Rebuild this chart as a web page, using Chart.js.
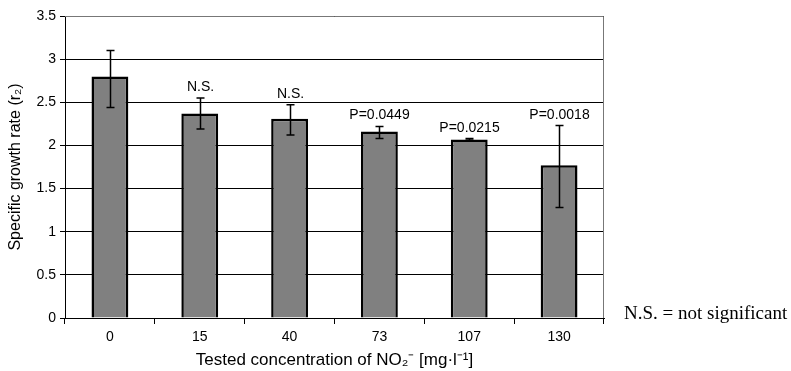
<!DOCTYPE html>
<html><head><meta charset="utf-8">
<script src="https://cdn.jsdelivr.net/npm/chart.js@4/dist/chart.umd.min.js"></script>
<style>html,body{margin:0;padding:0;background:#fff}#wrap{width:791px;height:371px;position:relative}</style>
</head><body><div id="wrap"><canvas id="c" width="791" height="371"></canvas></div>
<script>
const categories = ['0','15','40','73','107','130'];
const growthRate = [2.80, 2.37, 2.31, 2.16, 2.07, 1.77];
const errLow  = [2.44, 2.19, 2.12, 2.08, 2.06, 1.28];
const errHigh = [3.10, 2.55, 2.47, 2.22, 2.08, 2.23];
const sigLabels = ['', 'N.S.', 'N.S.', 'P=0.0449', 'P=0.0215', 'P=0.0018'];
const yTicks = [0, 0.5, 1, 1.5, 2, 2.5, 3, 3.5];
const noteText = 'N.S. = not significant';

const SANS = '"Liberation Sans", Arial, sans-serif';

const extras = {
  id: 'extras',
  beforeDatasetsDraw(chart) {
    const {ctx, chartArea: a} = chart;
    ctx.save();
    ctx.strokeStyle = '#777';
    ctx.lineWidth = 1;
    ctx.beginPath();
    ctx.moveTo(a.left, a.top + 0.5);
    ctx.lineTo(a.right - 0.5, a.top + 0.5);
    ctx.lineTo(a.right - 0.5, a.bottom);
    ctx.stroke();
    ctx.restore();
  },
  afterDatasetsDraw(chart) {
    const {ctx} = chart;
    const xs = chart.scales.x, ys = chart.scales.y;
    ctx.save();
    ctx.strokeStyle = '#000';
    ctx.lineWidth = 1.5;
    ctx.fillStyle = '#000';
    ctx.font = '14px ' + SANS;
    ctx.textAlign = 'center';
    ctx.textBaseline = 'alphabetic';
    categories.forEach((c, i) => {
      const x = Math.round(xs.getPixelForValue(i)) + 0.5;
      const yl = ys.getPixelForValue(errLow[i]);
      const yh = ys.getPixelForValue(errHigh[i]);
      ctx.beginPath();
      ctx.moveTo(x, yl); ctx.lineTo(x, yh);
      ctx.moveTo(x - 4, yl); ctx.lineTo(x + 4, yl);
      ctx.moveTo(x - 4, yh); ctx.lineTo(x + 4, yh);
      ctx.stroke();
      if (sigLabels[i]) ctx.fillText(sigLabels[i], x, yh - 7);
    });
    ctx.font = '19px "Liberation Serif", "Times New Roman", serif';
    ctx.textAlign = 'left';
    ctx.textBaseline = 'alphabetic';
    ctx.fillText(noteText, 624, ys.getPixelForValue(0) + 1);
    ctx.restore();
  }
};

new Chart(document.getElementById('c'), {
  type: 'bar',
  data: {
    labels: categories,
    datasets: [{
      data: growthRate,
      backgroundColor: '#808080',
      borderColor: '#000',
      borderWidth: 2.5,
      borderSkipped: 'bottom',
      categoryPercentage: 1,
      barPercentage: 0.41
    }]
  },
  options: {
    responsive: false,
    animation: false,
    devicePixelRatio: 1,
    layout: {padding: {left: 0, right: 187, top: 16, bottom: 0}},
    plugins: {legend: {display: false}, tooltip: {enabled: false}},
    scales: {
      x: {
        offset: true,
        afterFit(s) { s.height = 53; },
        grid: {offset: true, drawOnChartArea: false, drawTicks: true, tickLength: 6, color: '#000'},
        border: {color: '#000', width: 1},
        ticks: {color: '#000', font: {family: SANS, size: 14}, padding: 5},
        title: {display: true, text: 'Tested concentration of NO\u2082\u207B [mg\u00B7l\u207B\u00B9]', color: '#000',
                font: {family: SANS, size: 17}, padding: {top: 0, bottom: 0}}
      },
      y: {
        min: 0, max: 3.5,
        afterFit(s) { s.width = 65; },
        afterBuildTicks(s) { s.ticks = yTicks.map(v => ({value: v})); },
        grid: {color: '#000', lineWidth: 1, tickLength: 5},
        border: {color: '#000', width: 1},
        ticks: {color: '#000', font: {family: SANS, size: 14}, padding: 4, callback: v => String(v)},
        title: {display: true, text: 'Specific growth rate (r\u2082)', color: '#000',
                font: {family: SANS, size: 16}, padding: {top: 6, bottom: 0}}
      }
    }
  },
  plugins: [extras]
});
</script></body></html>
